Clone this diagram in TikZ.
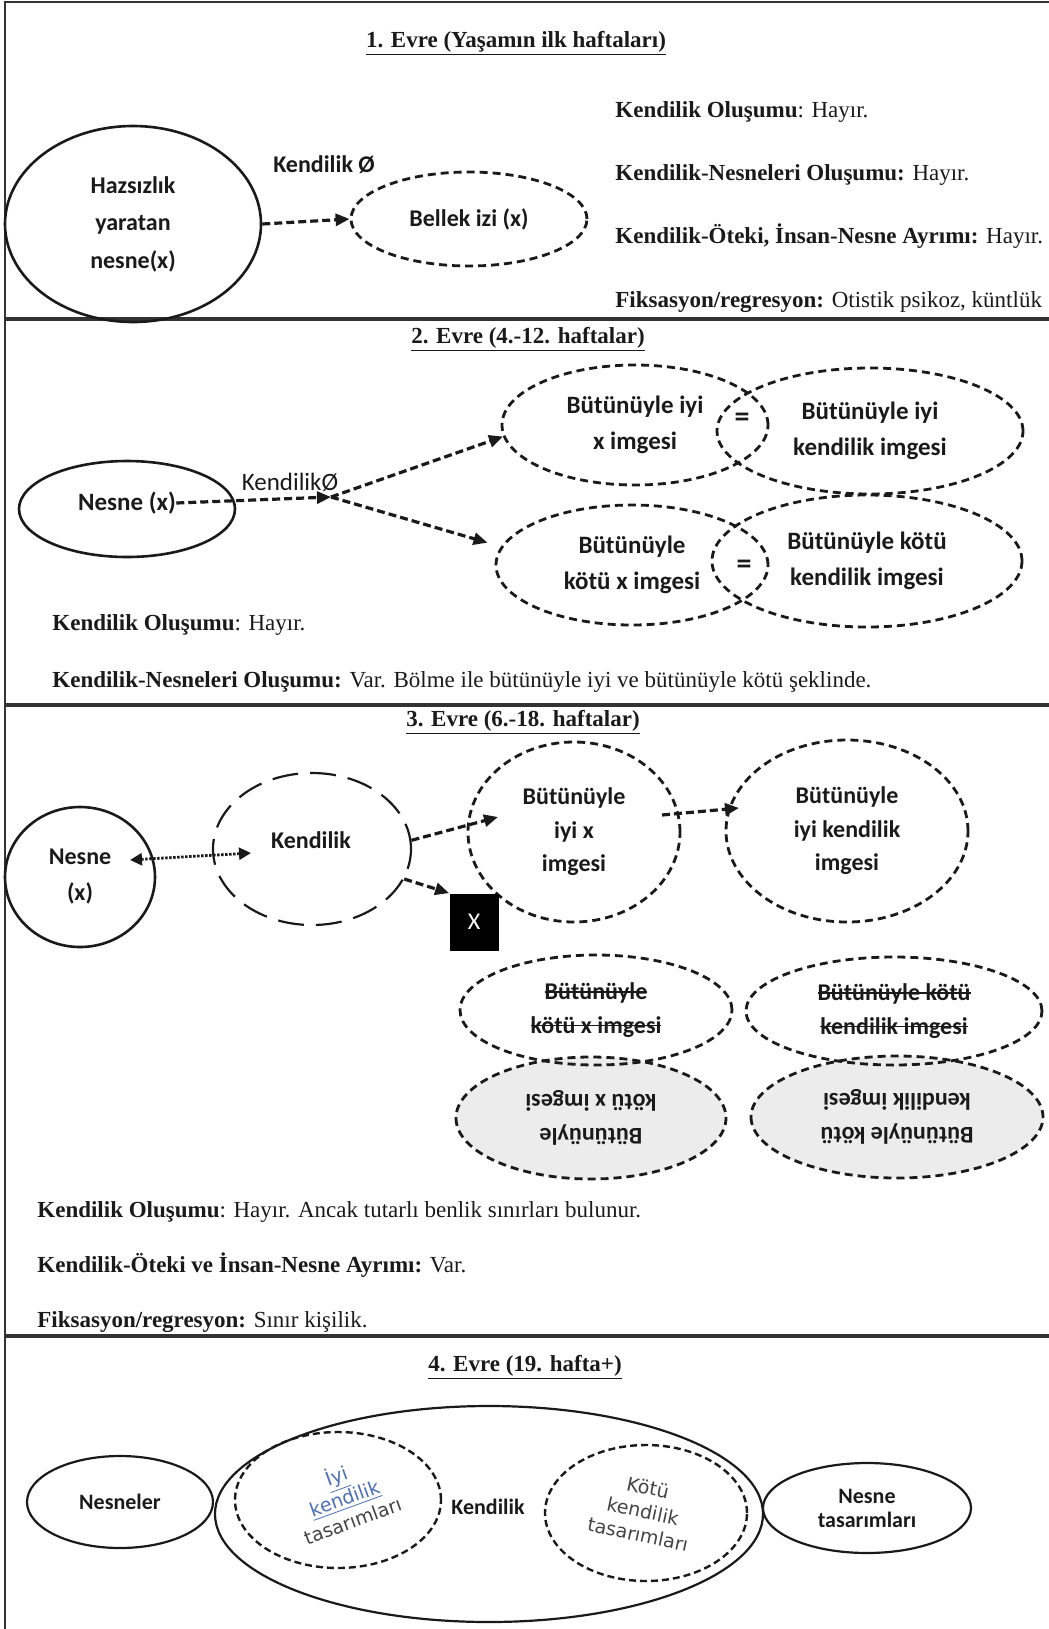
\documentclass[tikz,border=0pt]{standalone}
\usepackage{fontspec}
\setmainfont{Liberation Serif}
\newfontfamily\calfont{Carlito}
\newfontfamily\dejafont{DejaVu Sans}
\newcommand{\strk}[1]{\leavevmode\setbox0\hbox{#1}\rlap{\rule[0.28em]{\wd0}{0.8pt}}\box0}
\usetikzlibrary{shapes.geometric,arrows.meta}
\definecolor{ink}{HTML}{1A1A1A}
\definecolor{rulec}{HTML}{333333}
\definecolor{shade}{HTML}{ECECEC}
\definecolor{linkblue}{HTML}{4A6FB5}
\definecolor{softink}{HTML}{444444}
\tikzset{
  every node/.style={inner sep=0pt, text=ink},
  solidov/.style={draw=ink, ellipse, line width=1.3pt},
  thinov/.style={draw=ink, ellipse, line width=1.1pt},
  dashov/.style={draw=ink, ellipse, line width=1.4pt, dash pattern=on 4pt off 2.5pt},
  thindashov/.style={draw=ink, ellipse, line width=1.2pt, dash pattern=on 3.5pt off 2pt},
  longdashov/.style={draw=ink, ellipse, line width=1.1pt, dash pattern=on 13pt off 6pt},
  lblA/.style={font=\calfont\bfseries\fontsize{12}{18.75}\selectfont, align=center},
  lblB/.style={font=\calfont\bfseries\fontsize{12.5}{18.25}\selectfont, align=center},
  lblC/.style={font=\calfont\bfseries\fontsize{12}{16.75}\selectfont, align=center},
  lblD/.style={font=\calfont\bfseries\fontsize{11}{12}\selectfont, align=center},
  rottxt/.style={font=\dejafont\fontsize{9.5}{12}\selectfont, align=center, text=softink},
  body/.style={font=\fontsize{11.5}{13}\selectfont, anchor=base west},
  ttl/.style={font=\bfseries\fontsize{11.5}{13}\selectfont, anchor=base},
  darr/.style={draw=ink, line width=1.6pt, dash pattern=on 4pt off 2pt, -{Triangle[length=7pt,width=6pt]}},
  dotarr/.style={draw=ink, line width=1.4pt, dash pattern=on 1.2pt off 0.8pt, {Triangle[length=6pt,width=6pt]}-{Triangle[length=6pt,width=6pt]}},
  divider/.style={draw=rulec, line width=1.6pt},
}
\begin{document}
\begin{tikzpicture}[x=0.5pt,y=-0.5pt]
\useasboundingbox (0,0) rectangle (1049,1629);
% frame and dividers
\draw[rulec, line width=1pt] (5,1629) -- (5,2) -- (1049,2);
\draw[divider] (5,319) -- (1049,319);
\draw[divider] (5,705) -- (1049,705);
\draw[divider] (5,1336) -- (1049,1336);

% ---------------- Section 1
\node[ttl] (t1) at (516,47) {\underline{1. Evre (Yaşamın ilk haftaları)}};
\node[solidov, minimum width=128pt, minimum height=98pt, lblA] (s1obj) at (133,224) {Hazsızlık\\yaratan\\nesne(x)};
\node[dashov, minimum width=118pt, minimum height=47pt, lblA] (s1mem) at (469,219) {Bellek izi (x)};
\node[lblA] (s1lab) at (324,165) {Kendilik Ø};
\draw[darr] (s1obj.east) -- (s1mem.west);
\node[body] (s1a) at (615,117) {\textbf{Kendilik Oluşumu}: Hayır.};
\node[body] (s1b) at (615,180) {\textbf{Kendilik-Nesneleri Oluşumu:} Hayır.};
\node[body] (s1c) at (615,243) {\textbf{Kendilik-Öteki, İnsan-Nesne Ayrımı:} Hayır.};
\node[body] (s1d) at (615,307) {\textbf{Fiksasyon/regresyon:} Otistik psikoz, küntlük};

% ---------------- Section 2
\node[ttl] (t2) at (528,343) {\underline{2. Evre (4.-12. haftalar)}};
\node[solidov, minimum width=108pt, minimum height=48pt] (s2obj) at (127,509) {};
\node[lblB] (s2objt) at (127,503) {Nesne (x)};
\node[font=\calfont\fontsize{12.5}{14}\selectfont] (s2lab) at (290,482) {KendilikØ};
\node[dashov, minimum width=133pt, minimum height=60pt, lblB] (s2good) at (635,425) {Bütünüyle iyi\\x imgesi};
\node[dashov, minimum width=153pt, minimum height=63pt, lblB] (s2goodself) at (870,431) {Bütünüyle iyi\\kendilik imgesi};
\node[dashov, minimum width=136pt, minimum height=60pt, lblB] (s2bad) at (632,565) {Bütünüyle\\kötü x imgesi};
\node[dashov, minimum width=155pt, minimum height=66pt, lblB] (s2badself) at (867,561) {Bütünüyle kötü\\kendilik imgesi};
\node[font=\calfont\bfseries\fontsize{15}{16}\selectfont] (s2eq1) at (742,420) {=};
\node[font=\calfont\bfseries\fontsize{15}{16}\selectfont] (s2eq2) at (744,567) {=};
\coordinate (s2j) at (331,497);
\draw[darr] (s2objt.east) -- (s2j);
\draw[darr] (s2j) -- (s2good.185);
\draw[darr, shorten >=7pt] (s2j) -- (s2bad.172);
\node[body] (s2a) at (52,630) {\textbf{Kendilik Oluşumu}: Hayır.};
\node[body] (s2b) at (52,687) {\textbf{Kendilik-Nesneleri Oluşumu:} Var. Bölme ile bütünüyle iyi ve bütünüyle kötü şeklinde.};

% ---------------- Section 3
\node[ttl] (t3) at (523,726) {\underline{3. Evre (6.-18. haftalar)}};
\node[solidov, minimum width=75pt, minimum height=70pt, lblA, font=\calfont\bfseries\fontsize{12}{18}\selectfont] (s3obj) at (80,877) {Nesne\\(x)};
\node[longdashov, minimum width=99pt, minimum height=76pt] (s3self) at (312,849) {};
\node[lblC] (s3selft) at (311,840) {Kendilik};
\node[dashov, minimum width=106pt, minimum height=90pt, lblC] (s3good) at (574,832) {Bütünüyle\\iyi x\\imgesi};
\node[dashov, minimum width=121pt, minimum height=91pt, lblC] (s3goodself) at (847,831) {Bütünüyle\\iyi kendilik\\imgesi};
\node[fill=black, minimum width=24.5pt, minimum height=28.5pt, text=white, font=\calfont\fontsize{12}{14}\selectfont] (s3x) at (474,922) {X};
% grey upside-down ellipses
\node[dashov, fill=shade, minimum width=135pt, minimum height=61pt, lblC, rotate=180] (s3badinv) at (591,1118) {Bütünüyle\\kötü x imgesi};
\node[dashov, fill=shade, minimum width=146pt, minimum height=61pt, lblC, rotate=180] (s3badselfinv) at (897,1117) {Bütünüyle kötü\\kendilik imgesi};
% struck ellipses
\node[dashov, minimum width=136pt, minimum height=55pt, lblC] (s3badx) at (596,1010) {\strk{Bütünüyle}\\\strk{kötü x imgesi}};
\node[dashov, minimum width=148pt, minimum height=54pt, lblC] (s3badself) at (894,1011) {\strk{Bütünüyle kötü}\\\strk{kendilik imgesi}};
% connectors
\coordinate (s3d1) at (130,860);
\coordinate (s3d2) at (251,853);
\draw[dotarr] (s3d1) -- (s3d2);
\coordinate (s3a1) at (498,817);
\draw[darr] (s3self.5) -- (s3a1);
\draw[darr] (s3self.-18) -- (s3x.north west);
\coordinate (s3b0) at (662,815);
\coordinate (s3b1) at (739,808);
\draw[darr] (s3b0) -- (s3b1);
\node[body] (s3a) at (37,1217) {\textbf{Kendilik Oluşumu}: Hayır. Ancak tutarlı benlik sınırları bulunur.};
\node[body] (s3b) at (37,1272) {\textbf{Kendilik-Öteki ve İnsan-Nesne Ayrımı:} Var.};
\node[body] (s3c) at (37,1327) {\textbf{Fiksasyon/regresyon:} Sınır kişilik.};

% ---------------- Section 4
\node[ttl] (t4) at (525,1371) {\underline{4. Evre (19. hafta+)}};
\node[thinov, minimum width=93pt, minimum height=46pt, lblD] (s4objs) at (120,1502) {Nesneler};
\node[thinov, minimum width=274pt, minimum height=108pt] (s4self) at (489,1514) {};
\node[lblD] (s4selft) at (488,1507) {Kendilik};
\node[thindashov, minimum width=103pt, minimum height=68pt] (s4good) at (338,1500) {};
\node[rottxt, rotate=20] (s4goodt) at (344,1497) {\textcolor{linkblue}{\underline{İyi}}\\\textcolor{linkblue}{\underline{kendilik}}\\tasarımları};
\node[thindashov, minimum width=101pt, minimum height=68pt] (s4bad) at (646,1513) {};
\node[rottxt, rotate=-12] (s4badt) at (643,1511) {Kötü\\kendilik\\tasarımları};
\node[thinov, minimum width=104pt, minimum height=45pt, lblD] (s4objr) at (867,1508) {Nesne\\tasarımları};
\end{tikzpicture}
\end{document}
